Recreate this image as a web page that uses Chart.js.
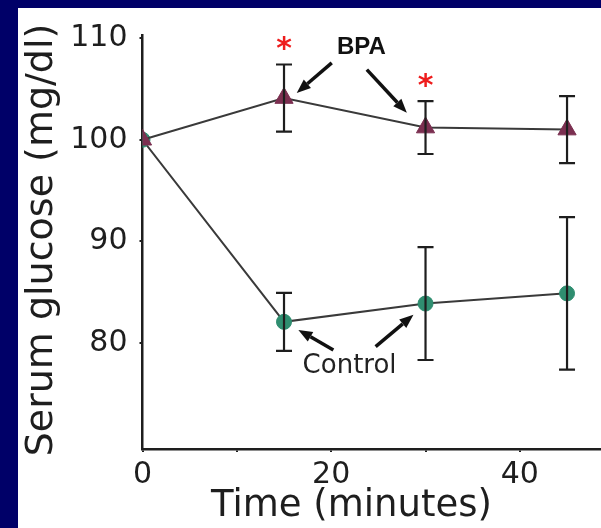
<!DOCTYPE html>
<html>
<head>
<meta charset="utf-8">
<script src="https://cdn.jsdelivr.net/npm/chart.js@4.4.1/dist/chart.umd.min.js"></script>
<style>
  html, body { margin: 0; padding: 0; background: #000068; }
  #wrap { width: 601px; height: 528px; }
</style>
</head>
<body>
<div id="wrap"><canvas id="c" width="601" height="528"></canvas></div>
<script>
// --- données ---
const times      = [0, 15, 30, 45];
const bpaMean    = [100, 104.1, 101.2, 101.0];
const bpaErr     = [0, 3.3, 2.6, 3.3];
const ctrlMean   = [100, 82.1, 83.9, 84.9];
const ctrlErr    = [0, 2.85, 5.55, 7.5];

const xTicks = [0, 10, 20, 30, 40];
const xTickLabels = ["0", "", "20", "", "40"];
const yTicks = [80, 90, 100, 110];

// astérisques de significativité (temps, valeur)
const starX = [15, 30];
const starY = [109.5, 105.9];

// annotations : [x, y] en unités de données
const bpaLabel   = [23.2, 109.1];
const bpaArrows  = [[[20.06, 107.56], [16.35, 104.61]], [[23.78, 106.9], [28.02, 102.66]]];
const ctrlLabel  = [21.95, 77.7];
const ctrlArrows = [[[20.23, 79.34], [16.52, 81.31]], [[24.71, 79.67], [28.72, 82.79]]];

const NAVY = "#000068";
const INK = "#1e1e1e";
const FONT = "'DejaVu Sans', Verdana, sans-serif";

function arrow(ctx, x1, y1, x2, y2) {
  const a = Math.atan2(y2 - y1, x2 - x1);
  const head = 14, half = 5.5;
  const bx = x2 - head * Math.cos(a), by = y2 - head * Math.sin(a);
  ctx.beginPath();
  ctx.moveTo(x1, y1);
  ctx.lineTo(bx, by);
  ctx.lineWidth = 3.5;
  ctx.stroke();
  ctx.beginPath();
  ctx.moveTo(x2, y2);
  ctx.lineTo(bx + half * Math.sin(a), by - half * Math.cos(a));
  ctx.lineTo(bx - half * Math.sin(a), by + half * Math.cos(a));
  ctx.closePath();
  ctx.fill();
}

const deco = {
  id: "deco",
  beforeDraw(chart) {
    const ctx = chart.ctx;
    ctx.save();
    ctx.fillStyle = NAVY;
    ctx.fillRect(0, 0, chart.width, chart.height);
    ctx.fillStyle = "#ffffff";
    ctx.fillRect(18, 8, chart.width - 18, chart.height - 8);
    ctx.restore();
  },
  afterDatasetsDraw(chart) {
    const ctx = chart.ctx;
    const xs = chart.scales.x, ys = chart.scales.y;
    const px = v => xs.getPixelForValue(v);
    const py = v => ys.getPixelForValue(v);
    ctx.save();

    // barres d'erreur
    ctx.strokeStyle = INK;
    ctx.lineWidth = 2.2;
    [[bpaMean, bpaErr], [ctrlMean, ctrlErr]].forEach(([m, e]) => {
      times.forEach((t, i) => {
        if (!e[i]) return;
        const x = px(t), top = py(m[i] + e[i]), bot = py(m[i] - e[i]);
        ctx.beginPath();
        ctx.moveTo(x, top); ctx.lineTo(x, bot);
        ctx.moveTo(x - 8, top); ctx.lineTo(x + 8, top);
        ctx.moveTo(x - 8, bot); ctx.lineTo(x + 8, bot);
        ctx.stroke();
      });
    });

    // astérisques
    ctx.fillStyle = "#ee1c1c";
    ctx.font = "bold 30px " + FONT;
    ctx.textAlign = "center";
    ctx.textBaseline = "middle";
    starX.forEach((t, i) => ctx.fillText("*", px(t), py(starY[i]) + 7));

    // flèches + étiquettes
    ctx.fillStyle = "#111";
    ctx.strokeStyle = "#111";
    bpaArrows.concat(ctrlArrows).forEach(([a, b]) =>
      arrow(ctx, px(a[0]), py(a[1]), px(b[0]), py(b[1])));

    ctx.font = "bold 24px 'Liberation Sans', Arial, sans-serif";
    ctx.fillText("BPA", px(bpaLabel[0]), py(bpaLabel[1]));
    ctx.fillStyle = "#222";
    ctx.font = "26px " + FONT;
    ctx.fillText("Control", px(ctrlLabel[0]), py(ctrlLabel[1]));

    // titres des axes
    const area = chart.chartArea;
    ctx.fillStyle = INK;
    ctx.font = "37px " + FONT;
    ctx.fillText("Time (minutes)", area.left + 209, area.bottom + 57);
    ctx.font = "38px " + FONT;
    ctx.translate(42.5, (area.top + area.bottom) / 2 - 2);
    ctx.rotate(-Math.PI / 2);
    ctx.fillText("Serum glucose (mg/dl)", 0, 0);
    ctx.restore();
  }
};

new Chart(document.getElementById("c"), {
  type: "line",
  data: {
    datasets: [
      {
        label: "BPA",
        data: times.map((t, i) => ({ x: t, y: bpaMean[i] })),
        borderColor: "#3a3a3a",
        borderWidth: 2,
        pointStyle: "triangle",
        pointRadius: 10.5,
        pointBackgroundColor: "#7b2f50",
        pointBorderColor: "#7b2f50",
        pointBorderWidth: 1,
        tension: 0
      },
      {
        label: "Control",
        data: times.map((t, i) => ({ x: t, y: ctrlMean[i] })),
        borderColor: "#3a3a3a",
        borderWidth: 2,
        pointStyle: "circle",
        pointRadius: 7.5,
        pointBackgroundColor: "#2f8e70",
        pointBorderColor: "#2f8e70",
        pointBorderWidth: 1,
        tension: 0
      }
    ]
  },
  options: {
    responsive: false,
    animation: false,
    events: [],
    layout: { autoPadding: false, padding: { top: 35, right: 0, bottom: 0, left: 0 } },
    plugins: { legend: { display: false }, tooltip: { enabled: false } },
    scales: {
      x: {
        type: "linear",
        min: 0,
        max: 48.6,
        afterFit: s => { s.height = 79; },
        afterBuildTicks: s => { s.ticks = xTicks.map(v => ({ value: v })); },
        border: { color: INK, width: 2.5 },
        grid: { drawOnChartArea: false, drawTicks: true, tickLength: 3, color: INK, lineWidth: 2 },
        ticks: {
          color: INK,
          padding: 5,
          maxRotation: 0,
          autoSkip: false,
          font: { family: FONT, size: 30 },
          callback: (v, i) => xTickLabels[i]
        }
      },
      y: {
        type: "linear",
        min: 69.6,
        max: 110.3,
        afterFit: s => { s.width = 142.5; },
        afterBuildTicks: s => { s.ticks = yTicks.map(v => ({ value: v })); },
        border: { color: INK, width: 2.5 },
        grid: { drawOnChartArea: false, drawTicks: true, tickLength: 3, color: INK, lineWidth: 2 },
        ticks: {
          color: INK,
          padding: 12,
          autoSkip: false,
          font: { family: FONT, size: 30 },
          callback: v => String(v)
        }
      }
    }
  },
  plugins: [deco]
});
</script>
</body>
</html>
